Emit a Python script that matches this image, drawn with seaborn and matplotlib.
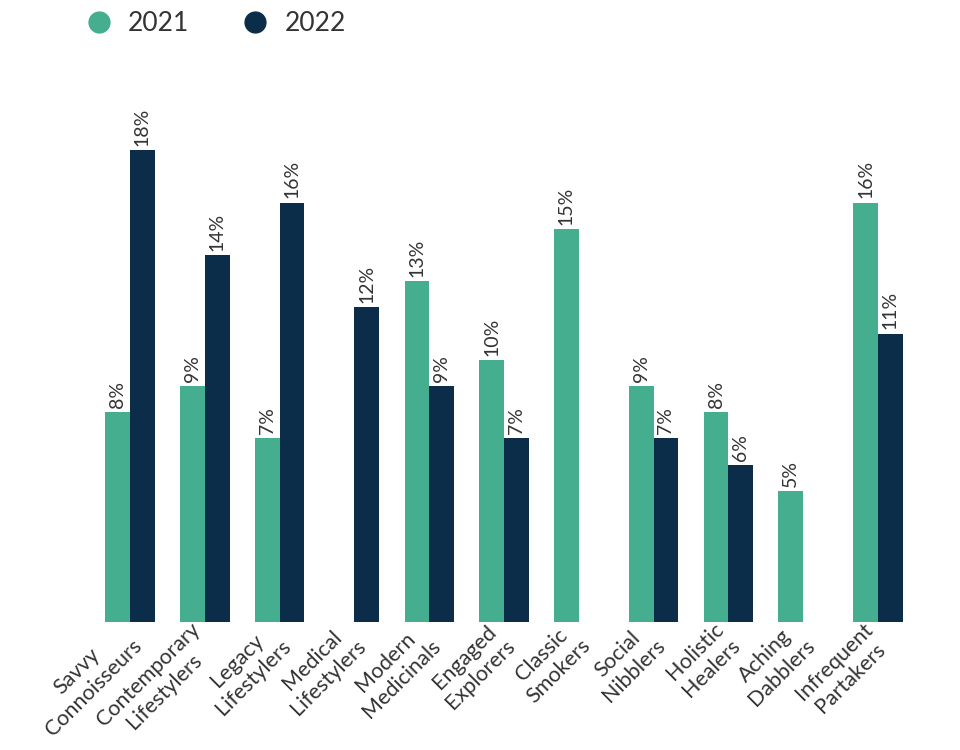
import numpy as np
import pandas as pd
import matplotlib
matplotlib.use("Agg")
import matplotlib.pyplot as plt
from matplotlib.lines import Line2D
import seaborn as sns

segments = ["Savvy\nConnoisseurs", "Contemporary\nLifestylers", "Legacy\nLifestylers",
            "Medical\nLifestylers", "Modern\nMedicinals", "Engaged\nExplorers",
            "Classic\nSmokers", "Social\nNibblers", "Holistic\nHealers",
            "Aching\nDabblers", "Infrequent\nPartakers"]
share_2021 = [8, 9, 7, None, 13, 10, 15, 9, 8, 5, 16]
share_2022 = [18, 14, 16, 12, 9, 7, None, 7, 6, None, 11]
years = ["2021", "2022"]
colors = {"2021": "#45AE8E", "2022": "#0B2D4A"}

rows = []
for seg, a, b in zip(segments, share_2021, share_2022):
    if a is not None:
        rows.append((seg, "2021", a))
    if b is not None:
        rows.append((seg, "2022", b))
df = pd.DataFrame(rows, columns=["segment", "year", "share"])

sns.set_style("white")
plt.rcParams['font.family'] = ['Lato', 'DejaVu Sans']
text_color = "#333333"

fig = plt.figure(figsize=(9.6, 7.5), dpi=100)
ax = fig.add_axes([0.0965, 0.1707, 0.857, 0.699])

sns.barplot(data=df, x="segment", y="share", hue="year", order=segments,
            hue_order=years, palette=colors, width=0.66, dodge=True,
            saturation=1, errorbar=None, ax=ax, legend=False, linewidth=0)

for cont in ax.containers:
    labels = ["" if np.isnan(v) else f"{v:.0f}%" for v in cont.datavalues]
    ax.bar_label(cont, labels=labels, rotation=90, padding=3,
                 fontsize=14, color=text_color)

ax.set_xlim(-0.5, 10.5)
ax.set_ylim(0, 20)
ax.set_xlabel("")
ax.set_ylabel("")
ax.set_yticks([])
ax.tick_params(axis="x", length=0, pad=9)
for lab in ax.get_xticklabels():
    lab.set_rotation(45)
    lab.set_rotation_mode("anchor")
    lab.set_ha("right")
    lab.set_va("center")
    lab.set_multialignment("center")
    lab.set_fontsize(15.5)
    lab.set_color(text_color)
sns.despine(ax=ax, left=True, bottom=True)

handles = [Line2D([0], [0], marker="o", linestyle="", markersize=15,
                  markerfacecolor=colors[y], markeredgecolor=colors[y]) for y in years]
fig.legend(handles, years, loc="upper left", bbox_to_anchor=(0.051, 1.017),
           ncol=2, frameon=False, handletextpad=0.1, columnspacing=1.5,
           labelcolor=text_color, prop={"family": "Lato", "size": 19})

fig.savefig("out.png", dpi=100, facecolor="white")
